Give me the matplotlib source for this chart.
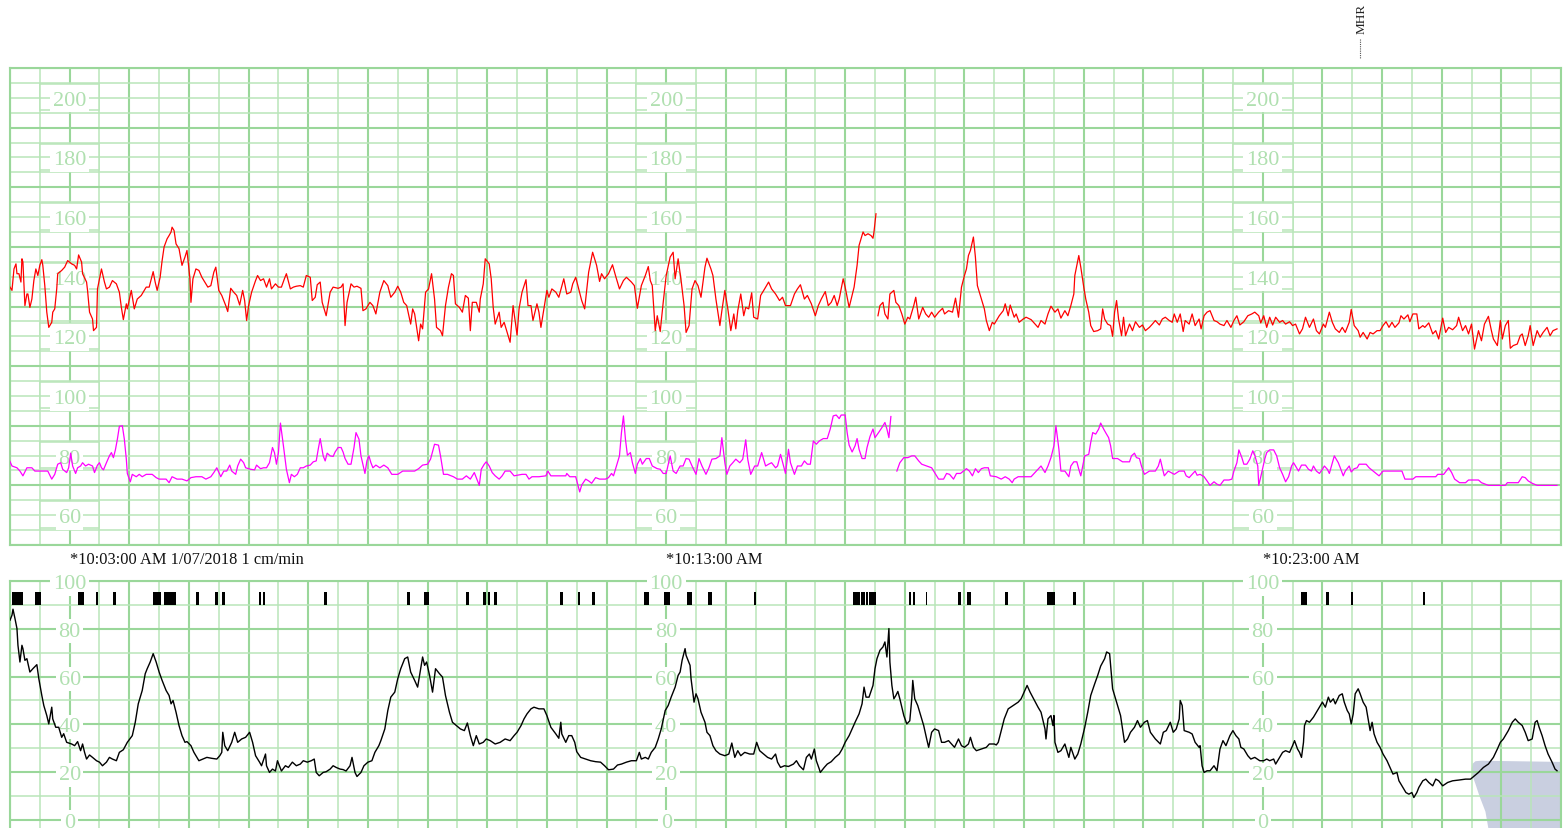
import numpy as np
import matplotlib
matplotlib.use("Agg")
import matplotlib.pyplot as plt
from matplotlib.patches import Rectangle, Polygon
from matplotlib.lines import Line2D

nan = float("nan")

# ---------------- data (time in seconds from 10:02:00) ----------------
fhr_t = [
    0, 2, 4, 6, 7, 9, 11, 12, 13, 15,
    17, 18, 20, 22, 24, 26, 28, 30, 32, 33,
    35, 37, 39, 42, 43, 45, 47, 48, 52, 55,
    58, 62, 65, 67, 69, 72, 73, 77, 78, 80,
    83, 84, 87, 88, 92, 95, 97, 100, 103, 107,
    110, 112, 114, 117, 118, 122, 125, 128, 132, 137,
    140, 144, 146, 148, 151, 153, 155, 158, 160, 162,
    163, 165, 167, 170, 173, 176, 178, 181, 182, 184,
    187, 190, 193, 197, 199, 202, 205, 207, 210, 213,
    217, 219, 222, 225, 228, 231, 234, 236, 238, 240,
    243, 247, 249, 252, 255, 258, 261, 263, 267, 270,
    273, 276, 278, 282, 285, 288, 292, 295, 298, 302,
    304, 307, 309, 312, 314, 318, 322, 325, 330, 333,
    335, 337, 339, 343, 346, 349, 353, 355, 358, 362,
    365, 368, 372, 376, 380, 383, 387, 390, 393, 396,
    399, 403, 405, 407, 411, 413, 415, 418, 421, 424,
    427, 429, 433, 435, 438, 441, 444, 446, 448, 452,
    455, 458, 461, 463, 465, 469, 472, 473, 476, 478,
    482, 484, 486, 488, 492, 494, 497, 500, 503, 506,
    510, 512, 515, 519, 521, 524, 526, 530, 532, 534,
    537, 540, 542, 545, 549, 552, 557, 560, 564, 566,
    569, 572, 575, 578, 582, 586, 590, 593, 595, 598,
    602, 606, 609, 613, 617, 620, 625, 628, 631, 635,
    639, 642, 644, 646, 649, 651, 654, 657, 660, 664,
    667, 669, 672, 675, 678, 680, 683, 686, 689, 692,
    695, 699, 701, 705, 707, 710, 714, 716, 719, 722,
    725, 728, 730, 732, 735, 738, 740, 743, 746, 748,
    752, 755, 759, 763, 766, 770, 774, 777, 780, 785,
    789, 792, 795, 799, 802, 806, 810, 813, 816, 820,
    823, 826, 829, 832, 834, 838, 840, 844, 847, 849,
    852, 854, 858, 860, 863, 866, 868, 869, 871, 872,
    873, 875, 878, 880, 883, 885, 889, 891, 894, 897,
    900, 903, 905, 909, 911, 914, 918, 921, 924, 927,
    930, 934, 938, 940, 944, 948, 951, 954, 957, 960,
    962, 964, 966, 969, 971, 973, 976, 980, 982, 985,
    988, 990, 993, 995, 999, 1001, 1004, 1006, 1010, 1012,
    1015, 1019, 1022, 1027,
    1034, 1037, 1041, 1044, 1047, 1051, 1054, 1057, 1061, 1064,
    1067, 1070, 1071, 1073, 1075, 1077, 1080, 1082, 1085, 1087,
    1090, 1094, 1097, 1099, 1101, 1104, 1107, 1109, 1111, 1113,
    1115, 1118, 1120, 1122, 1126, 1129, 1132, 1136, 1139, 1142,
    1146, 1149, 1152, 1156, 1159, 1162, 1166, 1169, 1171, 1174,
    1177, 1180, 1182, 1186, 1189, 1192, 1196, 1198, 1201, 1204,
    1207, 1211, 1214, 1217, 1221, 1224, 1228, 1231, 1234, 1237,
    1241, 1245, 1249, 1252, 1256, 1258, 1261, 1264, 1267, 1270,
    1273, 1277, 1280, 1283, 1287, 1290, 1293, 1297, 1300, 1303,
    1307, 1311, 1314, 1317, 1321, 1323, 1327, 1330, 1333, 1337,
    1340, 1343, 1347, 1349, 1352, 1356, 1358, 1361, 1365, 1368,
    1371, 1375, 1378, 1381, 1384, 1387, 1390, 1393, 1397, 1399,
    1402, 1406, 1408, 1411, 1415, 1417, 1421, 1423, 1427, 1431,
    1434, 1437, 1441, 1444, 1447, 1451, 1455, 1457, 1461, 1464,
    1467, 1470, 1473, 1477, 1480, 1483, 1487, 1490, 1492, 1496,
    1499, 1501, 1504, 1507, 1509, 1512, 1516, 1519, 1521, 1524,
    1527, 1529, 1532, 1536, 1539, 1542, 1546, 1549, 1552, 1556,
]
fhr_bpm = [
    136.5, 135.4, 142.6, 144.3, 141, 141, 138.2, 146, 144.9, 130.3,
    134.2, 134.2, 129.7, 132.5, 138.7, 142.6, 140.4, 143.8, 145.7, 143.8,
    137, 128.1, 123, 124.7, 128.1, 129.2, 135.9, 141, 142.1, 143.2,
    145.4, 144.3, 143.8, 142.6, 147.3, 144.9, 141, 138.2, 135.4, 128.1,
    125.8, 121.9, 123, 135.9, 142.6, 138.2, 135.9, 136.5, 138.7, 137.6,
    134.8, 129.7, 125.6, 130.9, 129.2, 135.4, 129.2, 132.5, 133.7, 136.5,
    136.5, 141.7, 138.2, 135.4, 139.8, 145.4, 150, 152.7, 153.8, 155,
    156.6, 155.5, 151, 149.4, 143.8, 146.6, 148.8, 139.3, 131.4, 139.3,
    142.6, 142.1, 139.8, 137.6, 136.5, 137, 141.5, 143.2, 135.4, 133.7,
    130.3, 128.3, 136.1, 134.8, 133.7, 130.5, 135.4, 132, 125.3, 130.3,
    134.8, 138.7, 140.4, 138.7, 139.3, 136.5, 139.3, 135.9, 137.6, 136.5,
    136.5, 139.3, 141, 135.9, 136.5, 136.8, 137, 136.5, 140.4, 139.8,
    132, 133.1, 137.3, 138.2, 131.4, 126.9, 134.8, 136.5, 136.1, 136.5,
    137.6, 123.6, 131.4, 137.6, 136.5, 136.8, 136.1, 128.6, 129.2, 131.4,
    130.3, 127.5, 134.8, 138.7, 137, 133.1, 134.8, 136.8, 134.8, 131.4,
    130.3, 124.1, 129.2, 127.5, 118.5, 124.1, 122.5, 134.8, 135.9, 141,
    132.5, 123, 121.9, 120.2, 130.3, 136.5, 141, 140.4, 130.9, 129.7,
    128.1, 133.7, 132.8, 121.9, 131.4, 131.4, 128.1, 132.5, 137.6, 146,
    144.3, 139.3, 129.7, 124.1, 128.1, 123, 124.7, 121.3, 118, 130.3,
    120.4, 129.2, 134.8, 139, 130.3, 130.3, 125.3, 130.9, 128.1, 123,
    129.2, 135.4, 133.1, 135.9, 134.8, 133.1, 139.3, 134.2, 134.8, 137.6,
    139.8, 135.9, 132, 129.2, 141.5, 148.2, 143.8, 138.4, 141, 139.3,
    141, 144, 140.4, 135.9, 138.7, 139.8, 138.2, 137, 129.4, 137,
    140.4, 143.4, 138.7, 137, 121.9, 126.9, 121.6, 131.4, 140.4, 146.6,
    148.2, 139.3, 146, 138.7, 130.3, 121.3, 123.6, 135.9, 138.7, 137,
    133.1, 143.2, 146.2, 142.6, 140.4, 132.5, 123.6, 128.6, 135.4, 129.2,
    121.9, 127.5, 122.5, 128.6, 134.2, 126.9, 129.7, 129.2, 134.6, 126.4,
    125.8, 133.7, 135.9, 138.2, 135.9, 134.2, 132, 133.1, 130.3, 130.3,
    134.2, 135.9, 137.3, 132.5, 133.7, 130.9, 126.9, 130.3, 132.5, 135,
    130.3, 131.4, 133.7, 130.3, 132.5, 139.3, 136.5, 129.7, 133.7, 136.5,
    143.8, 150.5, 155, 153.8, 154.4, 153.8, 152.9, 155, 161.1, nan,
    126.9, 130.3, 131.4, 127.5, 125.8, 134.2, 135.4, 131.4, 130.3, 127.5,
    124.1, 126.4, 125.8, 130.3, 133.1, 125.8, 129.7, 127.5, 126.4, 128.1,
    126.4, 128.1, 129.4, 127.5, 128.6, 128.1, 132.8, 126.4, 136.5, 140.4,
    142.6, 147.1, 148.8, 153.3, 146.6, 137, 133.7, 129.2, 125.3, 121.9,
    124.7, 124.1, 125.8, 126.9, 128.6, 130.9, 126.9, 130.5, 126.4, 127.5,
    124.7, 125.8, 126.4, 125.6,
    123, 125.3, 124.1, 127.5, 130.1, 128.1, 129.2, 126.1, 128.6, 126.9,
    130.3, 134.2, 140.4, 143.8, 147.1, 143.2, 136.5, 132.5, 128.1, 123.6,
    121.6, 121.9, 122.5, 129.2, 125.8, 124.1, 123.6, 120, 128.1, 132,
    125.8, 120.2, 126.4, 120.2, 124.1, 121.9, 124.9, 123, 123.8, 121.9,
    123, 124.1, 125.3, 123.8, 125.8, 126.4, 125.3, 124.7, 127.5, 124.7,
    127.5, 121.6, 125.3, 124.1, 127.5, 123.6, 125.8, 122.5, 126.9, 128.1,
    128.6, 125.3, 124.9, 124.1, 123.6, 125.3, 123, 125.3, 126.9, 123.8,
    124.9, 126.9, 127.5, 128.1, 126.9, 124.5, 126.9, 123, 126.4, 123.8,
    126.4, 124.7, 125.3, 124.1, 124.9, 123.6, 124.1, 120.8, 122.5, 126.4,
    123, 125.8, 121.9, 120.8, 124.1, 123, 128.1, 124.7, 122.5, 121.3,
    123, 121.3, 124.7, 129, 123.6, 121.9, 119.7, 121.3, 119.1, 121.3,
    120.8, 121.9, 121.9, 123.6, 124.9, 123, 124.7, 123, 124.5, 126.9,
    125.8, 127.2, 124.9, 127.5, 127.5, 122.5, 123.6, 123, 124.5, 120.8,
    121.9, 119.1, 126.1, 121.3, 123, 122.2, 123.6, 126.4, 121.9, 123.6,
    120.8, 124.1, 115.7, 121.9, 118.5, 124.1, 126.7, 121.9, 119.1, 116.9,
    125.3, 119.1, 123.6, 125.3, 116, 116.9, 117.4, 120.2, 120.8, 116.9,
    120.2, 123.6, 116.9, 121.9, 119.7, 121.3, 123, 120.2, 121.9, 122.5,
]

mhr_t = [
    0, 2, 7, 10, 13, 17, 22, 25, 29, 38,
    42, 45, 48, 51, 53, 57, 59, 61, 63, 66,
    68, 71, 73, 76, 79, 83, 85, 88, 90, 92,
    94, 97, 100, 102, 104, 106, 108, 110, 113, 115,
    117, 118, 121, 123, 127, 130, 133, 137, 143, 147,
    150, 157, 160, 163, 168, 173, 178, 182, 187, 193,
    197, 202, 205, 208, 212, 215, 218, 221, 223, 227,
    229, 232, 235, 237, 242, 246, 248, 252, 255, 258,
    261, 264, 266, 268, 270, 272, 275, 278, 281, 283,
    286, 289, 292, 295, 298, 302, 305, 308, 310, 312,
    315, 317, 319, 322, 325, 327, 330, 333, 335, 337,
    340, 343, 346, 348, 351, 353, 357, 359, 361, 363,
    365, 368, 372, 376, 380, 384, 390, 395, 402, 407,
    411, 415, 420, 423, 427, 431, 433, 436, 440, 446,
    450, 455, 459, 463, 467, 469, 472, 474, 477, 479,
    482, 485, 488, 492, 495, 498, 503, 507,
    510, 515, 519, 522, 525, 532, 539, 541, 544, 550,
    559, 560, 563, 569, 571, 573, 575, 579, 582, 585,
    589, 593, 599, 602, 605, 607, 610, 613, 615, 617,
    619, 621, 624, 626, 629, 631, 634, 636, 640, 643,
    646, 651, 654, 657, 660, 664, 667, 670, 674, 677,
    680, 683, 686, 690, 693, 696, 700, 703, 706, 710,
    714, 716, 719, 721, 724, 727, 730, 734, 737, 740,
    742, 745, 749, 752, 756, 760, 763, 766, 770, 772,
    775, 778, 780, 783, 785, 789, 792, 796, 799, 802,
    805, 808, 811, 814, 818, 822, 825, 828, 831, 834,
    836, 840, 842, 844, 847, 850, 852, 854, 857, 860,
    862, 865, 868, 870, 874, 877, 880, 882, 884, 886,
    889, 892, 895, 899, 903, 907, 910, 914, 917, 922,
    927, 930, 934, 939, 942, 945, 949, 952, 956, 959,
    962, 965, 968, 971, 974, 977, 980, 984, 986, 992,
    997, 1001, 1005, 1008, 1010, 1014, 1022, 1027,
    1034, 1037, 1039, 1041, 1044, 1047, 1050, 1052, 1055, 1057,
    1061, 1065, 1067, 1070, 1073, 1075, 1077, 1079, 1081, 1085,
    1087, 1089, 1092, 1095, 1097, 1100, 1102, 1105, 1107, 1109,
    1114, 1119, 1126, 1128, 1131, 1133, 1136, 1138, 1141, 1146,
    1152, 1155, 1157, 1159, 1161, 1165, 1171, 1176, 1181, 1183,
    1186, 1189, 1192, 1194, 1197, 1201, 1204, 1207, 1211, 1214,
    1217, 1221, 1226, 1229, 1231, 1234, 1236, 1239, 1241, 1244,
    1247, 1250, 1252, 1255, 1256, 1259, 1262, 1264, 1267, 1271,
    1274, 1277, 1280, 1283, 1286, 1289, 1291, 1293, 1296, 1299,
    1303, 1306, 1309, 1311, 1314, 1317, 1320, 1322, 1325, 1327,
    1330, 1332, 1336, 1338, 1341, 1343, 1347, 1349, 1352, 1355,
    1357, 1364, 1367, 1371, 1374, 1377, 1381, 1387, 1400, 1403,
    1411, 1414, 1421, 1434, 1436, 1442, 1447, 1450, 1453, 1458,
    1464, 1467, 1477, 1480, 1487, 1504, 1506, 1517, 1521, 1524,
    1527, 1531, 1536, 1556,
]
mhr_bpm = [
    78, 76.5, 75.9, 74.8, 73.2, 75.9, 75.9, 74.8, 74.8, 74.8,
    72.1, 73.7, 77.1, 77.6, 75.4, 74.3, 75.9, 80.8, 76.5, 74,
    75.9, 76.5, 77.6, 76.5, 77.1, 76.5, 74.3, 76.8, 77.6, 75.9,
    75.2, 77.6, 79.9, 81, 79.3, 81.9, 85.5, 89.8, 90, 85.5,
    78.8, 74, 71.2, 73.7, 72.9, 73.7, 72.9, 73.7, 73.7, 72.6,
    72.1, 72.1, 70.9, 72.9, 72.1, 72.1, 71.5, 72.6, 72.9, 72.9,
    72.1, 72.9, 74.3, 75.9, 72.9, 74.8, 74.8, 76.8, 74.8, 73.7,
    76.5, 78.8, 77.6, 75.9, 75.4, 75.2, 76.8, 75.6, 75.9, 75.9,
    77.6, 82.7, 81, 77.1, 81, 90.9, 83.3, 75.4, 70.9, 73.7,
    72.9, 73.7, 75.9, 75.9, 76.5, 76.8, 77.9, 78.2, 82.1, 85.7,
    79.9, 78.2, 80.8, 79.9, 79.7, 81.2, 82.7, 82.7, 81.2, 79,
    77.1, 77.1, 82.7, 87.7, 85.5, 79.9, 74, 78.2, 79.9, 77.6,
    75.9, 76.8, 75.9, 76.8, 75.9, 73.7, 73.7, 74.8, 74.8, 74.8,
    75.6, 76.8, 77.1, 78.8, 83.8, 83.5, 79.9, 73.7, 73.7, 72.9,
    72.1, 72.1, 73.2, 72.1, 74.3, 72.6, 70, 75.4, 77.1, 77.9,
    76.5, 74.3, 73.2, 72.1, 73.2, 74.8, 74.8, 73.2,
    73.4, 73.7, 73.7, 72.1, 72.9, 72.9, 73.2, 74.8, 73.2, 73.2,
    73.2, 74, 72.9, 72.9, 70.4, 67.8, 70.1, 72.1, 71.5, 70.7,
    72.6, 72.1, 72.1, 72.6, 74, 73.2, 76.5, 79.9, 87.7, 93.3,
    85.5, 80.1, 81, 77.6, 74, 77.1, 79, 77.1, 79, 79,
    76.5, 75.6, 75.4, 74, 74, 79.9, 74.8, 74, 76.5, 76.5,
    79, 78.8, 76.5, 73.7, 79, 76.5, 73.7, 75.9, 78.8, 79,
    79.9, 86, 77.6, 73.7, 76.5, 77.6, 78.8, 77.6, 78.8, 85.3,
    78.8, 73.7, 76.5, 76.5, 81, 76.5, 77.1, 77.6, 75.9, 76.5,
    80.4, 76.5, 74, 82.1, 77.6, 73.7, 76.5, 76.5, 78.2, 77.1,
    77.1, 84.9, 83.8, 84.9, 85.7, 85.7, 88.9, 93.3, 93.6, 92.4,
    93.6, 93.6, 87.7, 83.5, 81.2, 83.3, 85.7, 82.1, 79, 79,
    82.7, 86.4, 88.9, 86, 87.9, 89.4, 91.1, 88.9, 86, 93.1,
    nan, 74.8, 77.6, 79.3, 79.3, 79.9, 79.9, 78.2, 77.1, 76.5,
    75.9, 74.3, 72.1, 72.1, 74, 73.7, 72.1, 74, 74, 74.8,
    75.6, 74.8, 73.2, 75.6, 74.3, 75.6, 75.9, 75.9, 73.2, 72.9,
    72.1, 72.9, 72.1, 70.9, 72.1, 72.9, 72.9, 72.9,
    75.4, 76.5, 75.4, 74.3, 76.5, 79.3, 83.3, 90, 82.1, 74.8,
    74.8, 72.9, 76.5, 77.9, 77.9, 75.4, 73.2, 76.5, 79.9, 80.4,
    84.4, 87.7, 87.2, 88.9, 90.9, 88.9, 87.7, 86, 83.3, 79,
    79, 77.9, 77.9, 79.9, 80.8, 79.3, 79, 76.5, 73.7, 74.8,
    74.8, 76.5, 78.8, 75.9, 73.2, 74.8, 73.7, 74.8, 74.8, 73.2,
    72.6, 73.7, 74.8, 73.4, 73.7, 72.9, 71.5, 70, 71.2, 70.4,
    70, 71.8, 71.8, 72.1, 74.8, 77.6, 81.9, 79.3, 77.1, 77.1,
    78.8, 81.6, 80.1, 76.5, 70, 74.3, 78.8, 81, 81.9, 81.9,
    79.9, 75.9, 73.7, 71.2, 72.9, 76.5, 77.6, 76.5, 74.8, 76.8,
    76.8, 75.4, 74.8, 76.5, 74.8, 74, 75.4, 76.5, 75.4, 74,
    77.6, 79.9, 77.6, 75.9, 73.2, 74.8, 76.5, 74.5, 75.6, 75.9,
    77.1, 77.1, 75.9, 74.8, 74, 73.2, 74.8, 74.8, 74.8, 72.1,
    72.1, 72.9, 72.9, 72.9, 73.7, 73.7, 75.9, 74.3, 72.1, 70.9,
    70.9, 71.8, 71.8, 70.9, 70, 70, 70.9, 70.9, 72.9, 72.6,
    71.5, 70.7, 70, 70,
]

ua_t = [
    0, 2, 3, 5, 7, 8, 10, 12, 13, 15,
    17, 20, 23, 27, 29, 32, 34, 37, 39, 42,
    43, 46, 49, 52, 54, 57, 62, 65, 68, 71,
    73, 75, 77, 80, 83, 87, 90, 93, 97, 100,
    103, 107, 110, 114, 118, 123, 126, 129, 133, 136,
    138, 141, 144, 147, 150, 153, 157, 160, 162, 164,
    167, 170, 173, 176, 178, 182, 185, 187, 190, 194,
    198, 203, 208, 211, 213, 214, 216, 219, 223, 226,
    229, 233, 237, 241, 244, 247, 251, 253, 257, 258,
    261, 264, 267, 269, 273, 277, 280, 284, 288, 292,
    295, 299, 303, 306, 308, 311, 315, 318, 322, 325,
    328, 332, 335, 338, 342, 344, 347, 349, 353, 356,
    360, 364, 367, 371, 373, 377, 380, 383, 387, 390,
    393, 397, 400, 403, 407, 410, 413, 415, 417, 419,
    422, 425, 428, 432, 435, 438, 442, 445, 449, 453,
    457, 460, 463, 466, 469, 472, 476, 479, 483, 488,
    493, 498, 503, 507,
    510, 514, 517, 520, 524, 527, 532, 537, 540, 544,
    549, 552, 554, 555, 559, 562, 565, 568, 570, 574,
    579, 584, 589, 594, 598, 602, 607, 611, 615, 620,
    625, 630, 633, 635, 639, 642, 645, 649, 652, 655,
    659, 662, 665, 669, 672, 674, 676, 679, 680, 682,
    684, 685, 688, 690, 692, 695, 699, 701, 704, 707,
    710, 714, 719, 723, 726, 729, 732, 735, 739, 744,
    748, 751, 754, 758, 762, 766, 770, 772, 775, 779,
    783, 788, 791, 794, 798, 801, 804, 806, 809, 811,
    814, 815, 819, 822, 826, 830, 834, 837, 840, 844,
    847, 850, 854, 857, 859, 861, 864, 868, 870, 872,
    875, 878, 880, 882, 884, 885, 887, 889, 891, 893,
    895, 899, 902, 905, 907, 908, 910, 913, 915, 919,
    922, 924, 927, 930, 934, 937, 940, 944, 947, 950,
    954, 957, 960, 964, 966, 969, 972, 977, 982, 985,
    990, 992, 994, 997, 1000, 1004, 1009, 1014, 1017, 1020,
    1023, 1026,
    1034, 1037, 1041, 1042, 1044, 1047, 1049, 1050, 1051, 1054,
    1057, 1061, 1065, 1067, 1071, 1074, 1077, 1081, 1084, 1087,
    1091, 1094, 1097, 1101, 1103, 1106, 1107, 1109, 1111, 1114,
    1117, 1119, 1121, 1124, 1127, 1131, 1134, 1137, 1141, 1144,
    1147, 1152, 1157, 1160, 1163, 1167, 1170, 1173, 1176, 1177,
    1179, 1181, 1186, 1189, 1192, 1196, 1197, 1199, 1201, 1204,
    1207, 1211, 1214, 1217, 1220, 1223, 1227, 1230, 1233, 1236,
    1238, 1241, 1245, 1248, 1252, 1257, 1261, 1264, 1267, 1271,
    1273, 1277, 1280, 1283, 1287, 1290, 1292, 1295, 1297, 1299,
    1301, 1302, 1304, 1307, 1311, 1314, 1317, 1320, 1323, 1326,
    1328, 1331, 1333, 1337, 1340, 1342, 1345, 1347, 1349, 1351,
    1353, 1356, 1358, 1361, 1364, 1366, 1368, 1370, 1372, 1375,
    1378, 1381, 1385, 1388, 1391, 1395, 1397, 1401, 1404, 1407,
    1410, 1412, 1415, 1417, 1421, 1424, 1427, 1431, 1434, 1437,
    1441, 1446, 1451, 1457, 1464, 1469, 1473, 1477, 1482, 1487,
    1492, 1496, 1499, 1502, 1507, 1511, 1514, 1517, 1521, 1524,
    1527, 1531, 1534, 1536, 1538, 1541, 1544, 1547, 1551, 1554, 1556,
]
ua_mmhg = [
    83.6, 85.7, 88.2, 84.3, 80.1, 73.1, 66.1, 73.1, 71.7, 66.8,
    67.5, 61.9, 63.3, 65, 59.1, 52.1, 47.9, 43.7, 40.2, 47.2,
    42.3, 38.8, 38.8, 34.6, 36.1, 32.5, 31.8, 31.1, 32.8, 29,
    31.8, 28.3, 25.5, 27.2, 26.2, 24.8, 24.2, 22.7, 24.2, 26.2,
    25.5, 24.8, 28.3, 29.4, 32.5, 35.3, 40.9, 48.6, 54.2, 61.2,
    63.3, 66.1, 69.6, 66.1, 61.9, 58.4, 54.2, 52.1, 48.6, 50,
    45.1, 39.5, 35.3, 32.5, 32.8, 31.1, 28.3, 26.9, 24.8, 25.5,
    26.2, 25.8, 25.5, 26.9, 28.3, 36.7, 31.1, 29, 32.5, 36.7,
    32.5, 33.9, 34.6, 36.7, 32.5, 26.9, 24.2, 22.7, 27.6, 22.7,
    19.9, 21.3, 20.5, 24.8, 20.5, 22.7, 22, 24.2, 22.7, 23.4,
    24.8, 24.2, 24.8, 25.5, 19.9, 18.5, 19.9, 20.2, 21.3, 22.7,
    22, 21.3, 21.1, 20.5, 22.7, 26.2, 19.9, 18.2, 19.9, 22.7,
    24.2, 24.8, 28.3, 31.1, 33.2, 38.1, 45.8, 51.4, 53.5, 59.1,
    63.3, 67.5, 68.2, 61.9, 58.4, 55.6, 63.3, 68.2, 64.7, 66.1,
    60.5, 53.5, 63.3, 61.2, 59.8, 52.1, 45.1, 40.9, 39.5, 38.1,
    37.4, 40.6, 35.3, 31.1, 35.3, 31.8, 32.5, 33.9, 33.2, 31.8,
    32.5, 33.9, 33.2, 35.3,
    36.7, 39.5, 42.3, 44.4, 46.5, 47.2, 46.5, 46.5, 43.7, 38.8,
    36, 34.2, 40.9, 36, 32.5, 35.3, 35.3, 32.5, 28.6, 26.2,
    25.5, 24.8, 24.4, 24.2, 22.7, 21, 21.3, 23, 23.4, 24.2,
    24.8, 24.8, 28.3, 25.5, 26.2, 25.5, 28.3, 30.4, 33.9, 38.1,
    45.8, 47.9, 51.4, 55.6, 60.5, 61.9, 66.8, 71.7, 68.9, 66.8,
    64.7, 59.1, 49.3, 52.8, 50.7, 45.1, 40.9, 36.7, 35.3, 31.1,
    29, 27.6, 26.9, 27.6, 32.2, 26.2, 29, 26.9, 28.3, 27.6,
    27.6, 32.5, 29, 27.6, 26.2, 25.5, 27.6, 24.2, 22, 22.7,
    22.4, 23.4, 24.8, 22.7, 21, 26.2, 27.6, 25.5, 29.7, 24.8,
    21.3, 19.9, 22, 23.4, 24.4, 26.2, 27.6, 29.7, 32.5, 35.3,
    38.1, 40.9, 44.4, 48.6, 55.6, 51.4, 51.4, 56.3, 63.3, 67.5,
    71, 72.4, 74.5, 68.2, 80.1, 66.1, 56.3, 50.7, 52.1, 53.8,
    50.7, 43.7, 40.2, 41.5, 50.7, 58.4, 50.7, 47.9, 45.1, 39.5,
    33.9, 30.4, 36.7, 38.1, 37.4, 32.5, 32.5, 33.2, 31.8, 30.4,
    33.9, 31.1, 30.4, 31.8, 34.6, 30.4, 29, 29.7, 30.4, 31.8,
    31.8, 31.4, 32.5, 37.4, 42.3, 46.5, 47.9, 49.3, 50.7, 53.5,
    56.3, 53.5,
    47.2, 45.1, 38.1, 33.9, 42.3, 43.7, 39.5, 43.7, 32.5, 28.3,
    29, 31.8, 26.2, 30.4, 25.5, 27.6, 31.8, 38.8, 45.1, 52.1,
    57, 60.5, 64.4, 67.5, 70.3, 69.6, 64.7, 54.9, 52.1, 47.9,
    43.7, 38.1, 32.5, 33.9, 36.7, 38.8, 41.6, 38.8, 40.9, 41.6,
    36.7, 33.9, 31.8, 36.7, 37.4, 40.9, 36.7, 38.1, 42.3, 50,
    47.9, 37.4, 36.7, 36, 32.5, 30.4, 31.1, 22.7, 19.9, 20.6,
    20.6, 22.7, 20.6, 29.7, 33.2, 31.1, 35.3, 37.4, 35.3, 33.9,
    30.4, 29.7, 26.9, 25.5, 26.2, 24.8, 24.8, 25.5, 24.8, 25.5,
    23.4, 26.2, 28.3, 29, 28.3, 31.1, 33.2, 29.7, 28.3, 26.2,
    32.5, 39.5, 41.6, 40.9, 43, 45.1, 47.2, 49.3, 47.2, 51.4,
    49.3, 50.7, 48.6, 52.1, 52.8, 49.3, 45.8, 44.4, 40.2, 44.4,
    52.8, 54.9, 52.8, 49.3, 47.2, 42.3, 37.4, 40.9, 36, 32.5,
    30.4, 27.6, 24.8, 22, 19.2, 19.9, 16.4, 13.6, 11.5, 10.8,
    11.5, 9.4, 11.5, 13.6, 16.4, 17.1, 15.7, 14.3, 17.1, 16.4,
    14.3, 15.7, 16.4, 16.7, 17.1, 17.1, 18.5, 19.9, 22, 23.4,
    26.2, 29.7, 32.5, 33.9, 37.4, 40.9, 42.3, 40.9, 39.5, 36.7,
    33.2, 33.9, 40.9, 41.6, 38.8, 35.3, 31.1, 27.6, 24.2, 21.3, 20.6,
]

# fetal movement marks: start second, duration in seconds
move_start = [2, 25, 68, 86, 104, 144, 155, 187, 206, 213, 250, 254, 316,
              399, 416, 459, 476, 481, 487, 553, 571, 585, 638, 658, 681,
              702, 748, 848, 856, 861, 864, 904, 908, 921, 954, 963, 1001,
              1043, 1069, 1298, 1324, 1349, 1421]
move_len = [11, 6, 6, 3, 3, 8, 12, 3, 3, 3, 2, 2, 3,
            3, 5, 3, 3, 2, 3, 3, 2, 3, 5, 6, 5,
            4, 2, 7, 4, 2, 7, 2, 2, 1, 3, 4, 3,
            8, 3, 7, 3, 2, 2]

hr_labels = [200, 180, 160, 140, 120, 100, 80, 60]
ua_labels = [100, 80, 60, 40, 20, 0]
label_cols = [60, 660, 1260]
time_marks = [(60, "*10:03:00 AM 1/07/2018 1 cm/min"),
              (660, "*10:13:00 AM"),
              (1260, "*10:23:00 AM")]

# ---------------- styling ----------------
W, H = 1563, 829
GRID_THICK = "#9ad79a"
GRID_THIN = "#b9e5b9"
LABEL_C = "#b0e0b0"
SERIF = "Liberation Serif"
T_END = 1560

fig = plt.figure(figsize=(W / 100, H / 100), dpi=100)
fig.patch.set_facecolor("white")

ax_hr = fig.add_axes([10 / W, (H - 546) / H, 1551 / W, (546 - 69) / H])
ax_ua = fig.add_axes([10 / W, 0, 1551 / W, (H - 582) / H])

for ax in (ax_hr, ax_ua):
    ax.set_xlim(0, T_END)
    ax.set_xticks([])
    ax.set_yticks([])
    for s in ax.spines.values():
        s.set_color(GRID_THICK)
        s.set_linewidth(1.5)
    for x in range(0, T_END + 1, 30):
        thick = x % 60 == 0
        ax.axvline(x, color=GRID_THICK if thick else GRID_THIN,
                   lw=1.5 if thick else 1.1, zorder=1)

ax_hr.set_ylim(50, 210)
for y in range(50, 211, 5):
    thick = y % 20 == 10
    ax_hr.axhline(y, color=GRID_THICK if thick else GRID_THIN,
                  lw=1.5 if thick else 1.1, zorder=1)

ax_ua.set_ylim(-3.35, 100)
ax_ua.spines["bottom"].set_visible(False)
for y in range(0, 101, 10):
    thick = y % 20 == 0
    ax_ua.axhline(y, color=GRID_THICK if thick else GRID_THIN,
                  lw=1.5 if thick else 1.1, zorder=1)

# scale labels
for c in label_cols:
    for v in hr_labels:
        ax_hr.add_patch(Rectangle((c - 30, v - 4.2), 60, 8.8, facecolor="white",
                                  edgecolor=GRID_THIN, lw=1.1, zorder=2))
        ax_hr.plot([c - 30, c + 30], [v, v], color=GRID_THIN, lw=1.1, zorder=3)
        ax_hr.text(c, v, str(v), ha="center", va="center_baseline", fontsize=16,
                   family=SERIF, color=LABEL_C, zorder=4,
                   bbox=dict(boxstyle="square,pad=0.12", fc="white", ec="none"))
    for v in ua_labels:
        ax_ua.text(c, v, str(v), ha="center", va="center_baseline", fontsize=16,
                   family=SERIF, color=LABEL_C, zorder=4, clip_on=False,
                   bbox=dict(boxstyle="square,pad=0.12", fc="white", ec="none"))

# shaded region at lower right
blob = Polygon([(1470, 21.3), (1471, 23.5), (1474, 24.6), (1480, 24.8),
                (1560, 24.3), (1560, -6), (1488, -6), (1484, 3.5),
                (1478, 10.0), (1474, 15.0), (1471, 18.5)],
               closed=True, facecolor="#c9cfe0", edgecolor="none", zorder=0.5)
ax_ua.add_patch(blob)

# traces
ax_hr.plot(fhr_t, fhr_bpm, color="#ff0000", lw=0.9, zorder=5)
ax_hr.plot(mhr_t, mhr_bpm, color="#ff00ff", lw=0.9, zorder=5)
ax_ua.plot(ua_t, ua_mmhg, color="black", lw=1.0, zorder=5)
ax_ua.broken_barh(list(zip(move_start, move_len)), (90, 5.3),
                  facecolors="black", zorder=5)

# time stamps between the panels
for t, txt in time_marks:
    ax_ua.text(t, 109.2, txt, ha="left", va="center", fontsize=11.8,
               family=SERIF, color="#111111", clip_on=False)

# legend entry
fig.text(1361.5 / W, 1 - 18.5 / H, "MHR", rotation=90, ha="center",
         va="center", fontsize=9.5, family=SERIF, color="#222222")
fig.add_artist(Line2D([1360 / W, 1360 / W], [1 - 40 / H, 1 - 60 / H],
                      color="#555555", lw=0.8, linestyle=(0, (1, 1))))

fig.savefig("out.png", dpi=100, facecolor="white")
